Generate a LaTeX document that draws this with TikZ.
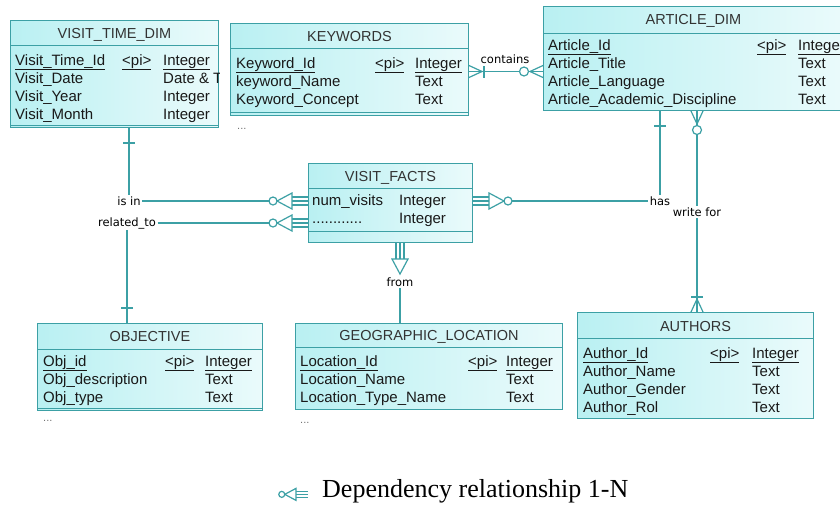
\documentclass[tikz,border=0pt]{standalone}
\usepackage{fontspec}
\setmainfont{Liberation Sans}
\newfontfamily\lblfont{DejaVu Sans}
\newfontfamily\legfont{Liberation Serif}
\usetikzlibrary{positioning}
\definecolor{erline}{RGB}{60,160,165}
\definecolor{erfill}{RGB}{185,240,242}
\setlength{\tabcolsep}{0pt}

\begin{document}
\begin{tikzpicture}[
    x=1pt, y=-1pt,
    entity/.style={rectangle, draw=erline, line width=1pt, anchor=north west,
                   inner sep=0pt, left color=erfill, right color=erfill!30!white},
    ttl/.style={anchor=base, inner sep=0pt, text=black!80,
                font=\fontsize{14.5}{17}\selectfont},
    attr/.style={anchor=base west, inner sep=0pt, text=black!90,
                 font=\fontsize{15}{18}\selectfont},
    more/.style={anchor=base west, inner sep=0pt, text=black!55,
                 font=\fontsize{11}{13}\selectfont},
    sep/.style={draw=erline, line width=1pt},
    rel/.style={draw=erline, line width=1.2pt},
    lbl/.style={inner sep=1.5pt, text=black,
                font=\lblfont\fontsize{11.5}{13}\selectfont},
    tail/.pic={\draw[rel] (0,-4) -- (-16,-4) (0,0) -- (-16,0) (0,4) -- (-16,4);
               \draw[rel, fill=white] (-16,-8) -- (-16,8) -- (-31,0) -- cycle;},
    tailo/.pic={\draw[rel] (0,-4) -- (-16,-4) (0,0) -- (-16,0) (0,4) -- (-16,4);
                \draw[rel, fill=white] (-16,-8) -- (-16,8) -- (-31,0) -- cycle;
                \draw[rel, fill=white] (-35,0) circle[radius=4];},
    feet/.pic={\draw[rel] (0,-6) -- (-13,0) -- (0,6);},
    feeto/.pic={\draw[rel] (0,-6) -- (-13,0) -- (0,6);
                \draw[rel, fill=white] (-19,0) circle[radius=4.5];},
    bar/.pic={\draw[rel] (-15,-6) -- (-15,6);},
  ]

  \useasboundingbox (0,0) rectangle (840,509);
  \clip (0,0) rectangle (840,509);

  % ── VISIT_TIME_DIM ───────────────────────────────
  \node[entity, minimum width=208pt, minimum height=107pt] (vtime) at (10,20) {};
  \node[ttl] (vtimettl) at ([yshift=-18pt]vtime.north) {VISIT\_TIME\_DIM};
  \draw[sep] ([yshift=-25pt]vtime.north west) -- ([yshift=-25pt]vtime.north east);
  \draw[sep] ([yshift=3pt]vtime.south west) -- ([yshift=3pt]vtime.south east);
  \begin{scope}
    \clip (vtime.north west) rectangle (vtime.south east);
    \node[attr] (vtimeatt) at (15,65) {\begin{tabular}[t]{p{107pt}p{41pt}l}
      \underline{Visit\_Time\_Id} & \underline{\textless pi\textgreater} & \underline{Integer}\\
      Visit\_Date  & & Date \& T\\
      Visit\_Year  & & Integer\\
      Visit\_Month & & Integer
    \end{tabular}};
  \end{scope}

  % ── KEYWORDS ─────────────────────────────────────
  \node[entity, minimum width=238pt, minimum height=92pt] (kw) at (230,23) {};
  \node[ttl] (kwttl) at ([yshift=-18pt]kw.north) {KEYWORDS};
  \draw[sep] ([yshift=-25pt]kw.north west) -- ([yshift=-25pt]kw.north east);
  \draw[sep] ([yshift=4pt]kw.south west) -- ([yshift=4pt]kw.south east);
  \node[attr] (kwatt) at (236,68) {\begin{tabular}[t]{p{139pt}p{40pt}l}
    \underline{Keyword\_Id} & \underline{\textless pi\textgreater} & \underline{Integer}\\
    keyword\_Name    & & Text\\
    Keyword\_Concept & & Text
  \end{tabular}};
  \node[more] (kwmore) at (237,129) {...};

  % ── ARTICLE_DIM ──────────────────────────────────
  \node[entity, minimum width=300pt, minimum height=104pt] (art) at (543,6) {};
  \node[ttl] (artttl) at ([yshift=-18pt]art.north) {ARTICLE\_DIM};
  \draw[sep] ([yshift=-27pt]art.north west) -- ([yshift=-27pt]art.north east);
  \node[attr] (artatt) at (548,50) {\begin{tabular}[t]{p{209pt}p{41pt}l}
    \underline{Article\_Id} & \underline{\textless pi\textgreater} & \underline{Integer}\\
    Article\_Title                & & Text\\
    Article\_Language             & & Text\\
    Article\_Academic\_Discipline & & Text
  \end{tabular}};

  % ── VISIT_FACTS ──────────────────────────────────
  \node[entity, minimum width=164pt, minimum height=79pt] (facts) at (308,163) {};
  \node[ttl] (factsttl) at ([yshift=-18pt]facts.north) {VISIT\_FACTS};
  \draw[sep] ([yshift=-25pt]facts.north west) -- ([yshift=-25pt]facts.north east);
  \draw[sep] ([yshift=12pt]facts.south west) -- ([yshift=12pt]facts.south east);
  \node[attr] (factsatt) at (312,205) {\begin{tabular}[t]{p{87pt}l}
    num\_visits  & Integer\\
    ............ & Integer
  \end{tabular}};

  % ── OBJECTIVE ────────────────────────────────────
  \node[entity, minimum width=225pt, minimum height=87pt] (obj) at (37,323) {};
  \node[ttl] (objttl) at ([yshift=-18pt]obj.north) {OBJECTIVE};
  \draw[sep] ([yshift=-26pt]obj.north west) -- ([yshift=-26pt]obj.north east);
  \draw[sep] ([yshift=3pt]obj.south west) -- ([yshift=3pt]obj.south east);
  \node[attr] (objatt) at (43,366) {\begin{tabular}[t]{p{122pt}p{40pt}l}
    \underline{Obj\_id} & \underline{\textless pi\textgreater} & \underline{Integer}\\
    Obj\_description & & Text\\
    Obj\_type        & & Text
  \end{tabular}};
  \node[more] (objmore) at (43,421) {...};

  % ── GEOGRAPHIC_LOCATION ──────────────────────────
  \node[entity, minimum width=267pt, minimum height=86pt] (geo) at (295,323) {};
  \node[ttl] (geottl) at ([yshift=-17pt]geo.north) {GEOGRAPHIC\_LOCATION};
  \draw[sep] ([yshift=-24pt]geo.north west) -- ([yshift=-24pt]geo.north east);
  \node[attr] (geoatt) at (300,366) {\begin{tabular}[t]{p{168pt}p{38pt}l}
    \underline{Location\_Id} & \underline{\textless pi\textgreater} & \underline{Integer}\\
    Location\_Name       & & Text\\
    Location\_Type\_Name & & Text
  \end{tabular}};
  \node[more] (geomore) at (300,423) {...};

  % ── AUTHORS ──────────────────────────────────────
  \node[entity, minimum width=236pt, minimum height=106pt] (auth) at (577,312) {};
  \node[ttl] (authttl) at ([yshift=-19pt]auth.north) {AUTHORS};
  \draw[sep] ([yshift=-26pt]auth.north west) -- ([yshift=-26pt]auth.north east);
  \node[attr] (authatt) at (583,358) {\begin{tabular}[t]{p{127pt}p{42pt}l}
    \underline{Author\_Id} & \underline{\textless pi\textgreater} & \underline{Integer}\\
    Author\_Name   & & Text\\
    Author\_Gender & & Text\\
    Author\_Rol    & & Text
  \end{tabular}};

  % ── relationship labels ──────────────────────────
  \node[lbl] (isin)     at (129,201) {is in};
  \node[lbl] (relto)    at (127,223) {related\_to};
  \node[lbl] (has)      at (660,201) {has};
  \node[lbl, fill=white] (wfor) at (697,212) {write for};
  \node[lbl] (from)     at (400,282) {from};
  \node[lbl] (contains) at (505,59)  {contains};

  % ── connectors ───────────────────────────────────
  % is in
  \draw[rel] (isin |- vtime.south) -- (isin.north);
  \draw[rel] (isin.east) -- (facts.west |- isin);
  \pic[rotate=90] at (isin |- vtime.south) {bar};
  \pic at (facts.west |- isin) {tailo};

  % related_to
  \draw[rel] (relto.east) -- (facts.west |- relto);
  \draw[rel] (relto.south) -- (relto |- obj.north);
  \pic at (facts.west |- relto) {tailo};
  \pic[rotate=-90] at (relto |- obj.north) {bar};

  % has
  \draw[rel] (facts.east |- has) -- (has.west);
  \draw[rel] (has.north) -- (has |- art.south);
  \pic[rotate=180] at (facts.east |- has) {tailo};
  \pic[rotate=90] at (has |- art.south) {bar};

  % from
  \draw[rel] (from.south) -- (from |- geo.north);
  \pic[rotate=90] at (from |- facts.south) {tail};

  % write for
  \draw[rel] (wfor.north) -- (wfor |- art.south);
  \draw[rel] (wfor.south) -- (wfor |- auth.north);
  \pic[rotate=90] at (wfor |- art.south) {feeto};
  \pic[rotate=-90] at (wfor |- auth.north) {feet};
  \pic[rotate=-90] at (wfor |- auth.north) {bar};

  % contains
  \coordinate (kwr) at ([yshift=-2pt]kw.east);
  \draw[rel] (kwr) -- (kwr -| art.west);
  \pic[rotate=180] at (kwr) {feet};
  \pic[rotate=180] at (kwr) {bar};
  \pic at (kwr -| art.west) {feeto};

  % ── legend ───────────────────────────────────────
  \node[anchor=base west, inner sep=0pt, text=black,
        font=\legfont\fontsize{26}{30}\selectfont] (legtxt) at (322,497)
        {Dependency relationship 1-N};
  \pic[scale=0.75] at ([xshift=-14pt]legtxt.mid west) {tailo};

\end{tikzpicture}
\end{document}
